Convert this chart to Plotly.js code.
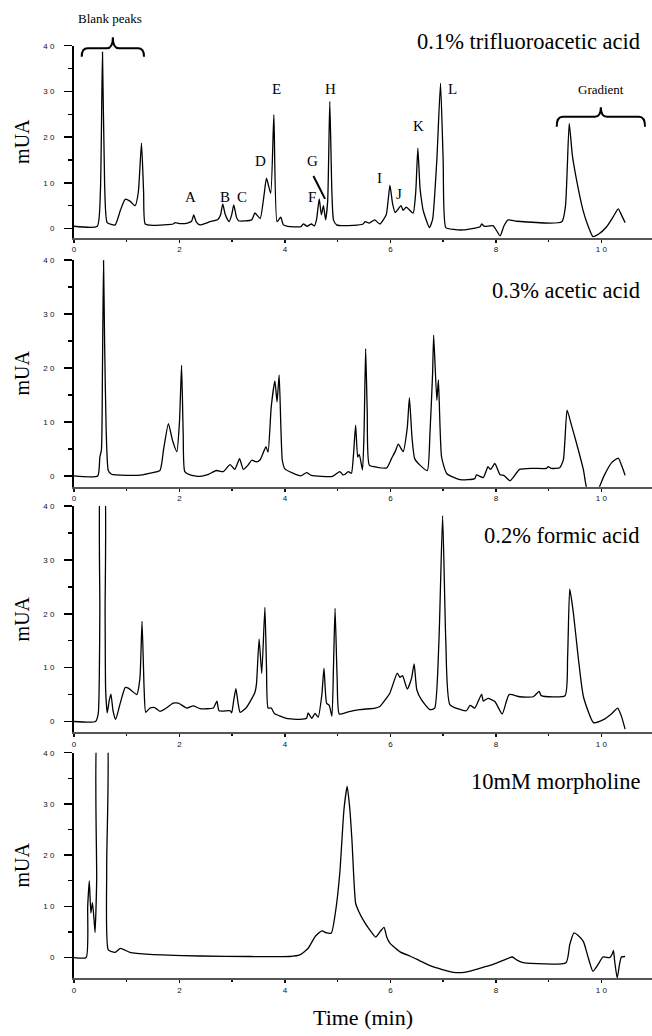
<!DOCTYPE html>
<html>
<head>
<meta charset="utf-8">
<script src="https://cdn.plot.ly/plotly-3.0.1.min.js"></script>
<style>html,body{margin:0;padding:0;background:#fff;}#chart{width:652px;height:1036px;}</style>
</head>
<body>
<div id="chart"></div>
<script>
// ---------- DATA ----------
const panelTitles = ["0.1% trifluoroacetic acid", "0.3% acetic acid", "0.2% formic acid", "10mM morpholine"];
const xTickVals = [0, 2, 4, 6, 8, 10];
const xTickText = ["0", "2", "4", "6", "8", "1 0"];
const yTickVals = [0, 10, 20, 30, 40];
const yTickText = ["0", "1 0", "2 0", "3 0", "4 0"];

const t_tfa = [0,0.44,0.50,0.54,0.58,0.63,0.78,0.88,0.97,1.06,1.16,1.22,1.28,1.32,1.35,1.5,1.7,1.88,1.92,2.0,2.15,2.23,2.27,2.32,2.39,2.58,2.73,2.78,2.82,2.87,2.94,2.99,3.03,3.08,3.12,3.37,3.43,3.53,3.60,3.65,3.73,3.79,3.85,3.92,3.97,4.05,4.30,4.35,4.42,4.50,4.56,4.60,4.65,4.69,4.73,4.77,4.81,4.85,4.89,4.92,4.98,5.30,5.48,5.52,5.60,5.70,5.80,5.92,5.99,6.04,6.09,6.20,6.24,6.30,6.43,6.48,6.52,6.56,6.58,6.62,6.74,6.80,6.88,6.95,7.00,7.05,7.20,7.38,7.70,7.73,7.78,7.95,8.08,8.15,8.23,8.40,9.25,9.32,9.39,9.45,9.53,9.65,9.75,9.84,9.95,10.10,10.22,10.32,10.38,10.45];
const v_tfa = [0.5,0.5,8,38.6,10,1.3,0.8,4.0,6.4,6.0,5.0,8,18.7,8,1.0,0.7,0.8,1.0,1.3,1.1,1.2,1.6,3.0,1.4,0.8,1.5,2.0,3,5.4,3,1.5,3,5.2,2.5,1.7,1.9,3.4,2.2,7,11.0,7.7,24.9,1.5,2.5,0.8,0.5,0.4,1.0,0.5,1.0,0.6,2,6.5,3.0,5.0,1.9,6,27.8,8,1.9,0.8,0.7,1.0,1.5,1.2,1.9,1.0,3,9.5,5.5,3.5,5.0,4.0,4.7,3.4,8,17.6,9,7.0,4,0.2,2,15,31.8,15,0.2,-0.2,-0.3,0.4,1.0,0.5,0.6,-1.6,0.5,1.9,1.6,1.5,5,23.0,16,10.6,4.1,0.5,-1.75,-1.2,0.4,2.5,4.3,3,1.3];

const t_acetic = [0,0.45,0.49,0.52,0.54,0.56,0.58,0.61,0.65,0.71,1.0,1.30,1.44,1.63,1.70,1.79,1.87,1.95,2.00,2.04,2.07,2.10,2.20,2.38,2.55,2.70,2.83,2.96,3.05,3.14,3.21,3.30,3.37,3.46,3.53,3.64,3.68,3.74,3.81,3.85,3.89,3.95,4.00,4.15,4.30,4.41,4.50,4.90,5.04,5.10,5.14,5.20,5.26,5.30,5.34,5.38,5.41,5.47,5.50,5.53,5.56,5.60,5.75,5.93,6.02,6.09,6.15,6.24,6.32,6.36,6.41,6.46,6.56,6.70,6.75,6.80,6.82,6.88,6.91,6.97,7.07,7.32,7.60,7.63,7.76,7.85,7.90,7.98,8.08,8.15,8.27,8.45,8.70,8.96,8.99,9.05,9.21,9.28,9.35,9.43,9.53,9.66,9.72,9.84,9.96,10.05,10.20,10.32,10.40,10.45];
const v_acetic = [0,0,3.5,4.8,20,39.9,25,8.5,1.0,0.3,0.1,0.2,0.5,1.0,5,9.7,6.5,4.5,10,20.5,8,0.8,0.2,-0.1,0.3,1.0,0.8,2.1,1.2,3.2,1.2,2.0,2.9,2.6,3.0,5.4,4.4,12.8,17.6,13.7,18.7,2.9,1.3,0.5,0.0,0.6,0.1,-0.1,0.8,0.2,0.3,0.8,0.5,4,9.4,3.5,4.0,1.1,8,23.6,12,2.0,1.6,1.5,3.2,4.5,5.9,4.5,9,14.5,7,3.2,2.0,1.0,8,19,26.1,14.0,17.8,3.5,0.4,-0.7,-0.5,0.2,-0.3,1.7,1.2,2.3,0.2,0.1,-0.9,1.2,1.4,1.4,1.7,1.4,1.5,3,12.2,9.5,6.0,1.1,-2.2,-4,-2.1,0,2.5,3.3,1.5,0.1];

const t_formic = [0,0.41,0.46,0.49,0.51,0.57,0.59,0.60,0.63,0.67,0.70,0.74,0.79,0.88,0.97,1.03,1.19,1.25,1.29,1.33,1.36,1.44,1.53,1.63,1.75,1.88,1.98,2.14,2.26,2.39,2.64,2.71,2.75,2.96,2.99,3.03,3.07,3.11,3.15,3.27,3.43,3.46,3.51,3.56,3.62,3.65,3.68,3.74,3.80,4.03,4.28,4.41,4.44,4.51,4.57,4.63,4.70,4.74,4.79,4.84,4.89,4.92,4.95,4.99,5.03,5.20,5.42,5.71,5.80,5.90,5.99,6.13,6.18,6.23,6.32,6.40,6.45,6.50,6.59,6.75,6.84,6.92,6.99,7.05,7.13,7.44,7.51,7.60,7.73,7.76,7.85,7.98,8.12,8.25,8.45,8.71,8.82,8.86,9.31,9.36,9.40,9.47,9.56,9.66,9.85,10.03,10.20,10.31,10.38,10.45];
const v_formic = [0,0,1.5,20,46,46,20,5.9,1.6,4,5.1,2,0.4,3.5,6.3,6.2,5.0,8,18.6,6,1.7,2.5,2.6,1.9,2.5,3.4,3.4,2.5,2.9,2.4,2.5,3.8,2.0,2.0,1.6,4,6.1,3.5,1.7,2.6,5.4,7,15.3,8.9,21.2,10,2.5,2.5,1.5,0.6,0.4,0.6,1.6,0.6,1.5,0.8,5,9.9,3.4,3.0,1.0,10,21.0,8,1.4,1.8,2.2,2.5,2.8,4.0,5.3,9.0,8.2,8.5,6.0,8,10.7,5.9,4.0,2.2,2.5,15,38.2,15,3.1,2.0,3.0,2.5,5.1,3.8,4.3,3.7,1.4,5.0,4.6,4.6,5.6,4.8,4.8,12,24.6,20.1,12,4.6,-0.2,0.3,1.5,2.5,1.0,-1.4];

const t_morph = [0,0.23,0.26,0.29,0.32,0.35,0.38,0.40,0.43,0.46,0.61,0.62,0.65,0.78,0.88,1.06,1.44,2.39,3.34,4.09,4.28,4.44,4.58,4.70,4.79,4.88,4.96,5.04,5.12,5.18,5.23,5.27,5.34,5.40,5.48,5.60,5.72,5.80,5.88,5.93,5.99,6.20,6.37,6.55,6.75,7.00,7.19,7.40,7.63,7.90,8.15,8.31,8.40,8.52,9.33,9.40,9.48,9.56,9.66,9.75,9.84,9.93,10.03,10.16,10.21,10.23,10.25,10.30,10.35,10.38,10.45];
const v_morph = [0,0,10,15.0,8.7,10.7,7.4,4.9,15,46,46,17.8,1.5,1.0,1.8,1.0,0.6,0.3,0.2,0.2,0.5,1.8,4.2,5.2,4.8,4.8,9,16.5,29,33.4,29,23,10.6,9,7.4,5.5,4.0,5.0,5.9,4,2.8,1.0,0.3,-0.6,-1.6,-2.4,-2.9,-2.9,-2.3,-1.5,-0.5,0.1,-0.5,-1.0,-1.0,2.5,4.8,4.3,3.1,0,-2.7,-1.5,0.1,0.0,0.8,1.4,-0.5,-4.0,-1.0,0.1,0.2];

const peakLetters = ["A","B","C","D","E","F","G","H","I","J","K","L"];

// ---------- LAYOUT HELPERS ----------
const W = 652, H = 1036, ML = 74, MR = 0, MT = 45, MB = 58;
const PW = W - ML - MR, PH = H - MT - MB;
const px = x => (x - ML) / PW;          // pixel -> paper x
const py = y => (H - MB - y) / PH;      // pixel -> paper y
const dom = (top, bot) => [Math.max(0, py(bot)), Math.min(1, py(top))];

const panelPix = [[45.7, 237.7], [260, 486.7], [506, 732.3], [752.7, 978.3]];
const yRanges = [[-2, 40], [-2, 40], [-2, 40], [-4, 40]];
const titleY = [41.7, 290, 535, 781.7];
const xs = [t_tfa, t_acetic, t_formic, t_morph];
const vs = [v_tfa, v_acetic, v_formic, v_morph];

const tickFont = {family: "Liberation Sans", size: 8, color: "#111"};
const serif = "Liberation Serif";

const traces = [];
const layout = {
  width: W, height: H,
  margin: {l: ML, r: MR, t: MT, b: MB, pad: 0},
  paper_bgcolor: "#fff", plot_bgcolor: "#fff",
  showlegend: false,
  font: {family: serif, color: "#000"},
  annotations: [], shapes: []
};

for (let i = 0; i < 4; i++) {
  const s = i === 0 ? "" : String(i + 1);
  traces.push({
    x: xs[i], y: vs[i], type: "scatter", mode: "lines",
    xaxis: "x" + s, yaxis: "y" + s,
    line: {color: "#000", width: 1.3, shape: "spline", smoothing: 0.5}, hoverinfo: "skip"
  });
  layout["xaxis" + s] = {
    domain: [0, 1], anchor: "y" + s, range: [0, 10.96],
    showgrid: false, zeroline: false, showline: true, linecolor: "#555", linewidth: 2,
    tickmode: "array", tickvals: xTickVals, ticktext: xTickText,
    ticks: "outside", ticklen: 3, tickwidth: 1.5, tickcolor: "#111",
    minor: {tickmode: "array", tickvals: [1, 3, 5, 7, 9], ticks: "outside", ticklen: 2, tickwidth: 1.5, tickcolor: "#111"},
    tickfont: tickFont, fixedrange: true
  };
  layout["yaxis" + s] = {
    domain: dom(panelPix[i][0], panelPix[i][1]), anchor: "x" + s, range: yRanges[i],
    showgrid: false, zeroline: false, showline: true, linecolor: "#000", linewidth: 2,
    tickmode: "array", tickvals: yTickVals, ticktext: yTickText,
    ticks: "outside", ticklen: 8, tickwidth: 1.5, tickcolor: "#000",
    minor: {tickmode: "array", tickvals: [5, 15, 25, 35], ticks: "outside", ticklen: 4, tickwidth: 1.5, tickcolor: "#000"},
    ticklabelstandoff: 8,
    tickfont: tickFont, fixedrange: true,
    title: {text: "mUA", font: {family: serif, size: 20, color: "#000"}, standoff: 8}
  };
  layout.annotations.push({
    xref: "paper", yref: "paper", x: px(642), y: py(titleY[i]),
    xanchor: "right", yanchor: "middle", showarrow: false,
    text: panelTitles[i], font: {family: serif, size: 22.5, color: "#000"}
  });
}
layout.xaxis4.title = {text: "Time (min)", font: {family: serif, size: 22, color: "#000"}, standoff: 16};

// peak letters (panel 1, data coordinates)
const letterPos = [[2.20,7.0],[2.86,7.0],[3.19,7.0],[3.54,14.8],[3.84,30.5],[4.51,7.0],[4.52,14.8],[4.87,30.5],[5.80,11.0],[6.16,7.5],[6.53,22.5],[7.18,30.5]];
peakLetters.forEach((L, k) => {
  layout.annotations.push({
    xref: "x", yref: "y", x: letterPos[k][0], y: letterPos[k][1],
    xanchor: "center", yanchor: "middle", showarrow: false,
    text: L, font: {family: serif, size: 15, color: "#000"}
  });
});
layout.shapes.push({type: "line", xref: "x", yref: "y", x0: 4.54, y0: 11.5, x1: 4.76, y1: 6.5, line: {color: "#000", width: 2}});

// text labels above braces
layout.annotations.push({xref: "paper", yref: "paper", x: px(110), y: py(18.5), xanchor: "center", yanchor: "middle",
  showarrow: false, text: "Blank peaks", font: {family: serif, size: 13, color: "#000"}});
layout.annotations.push({xref: "paper", yref: "paper", x: px(601), y: py(89), xanchor: "center", yanchor: "middle",
  showarrow: false, text: "Gradient", font: {family: serif, size: 13, color: "#000"}});

// braces (paper coordinates built from pixel layout positions)
function brace(x0, x1, yEnd, yBar, yTip) {
  const xm = (x0 + x1) / 2, r = 6;
  const P = (x, y) => px(x).toFixed(5) + "," + py(y).toFixed(5);
  return "M" + P(x0, yEnd) + " Q" + P(x0, yBar) + " " + P(x0 + r, yBar) +
         " L" + P(xm - r, yBar) + " Q" + P(xm, yBar) + " " + P(xm, yTip) +
         " Q" + P(xm, yBar) + " " + P(xm + r, yBar) +
         " L" + P(x1 - r, yBar) + " Q" + P(x1, yBar) + " " + P(x1, yEnd);
}
layout.shapes.push({type: "path", xref: "paper", yref: "paper", path: brace(81.7, 144, 56.7, 48.3, 37.3), line: {color: "#000", width: 2}});
layout.shapes.push({type: "path", xref: "paper", yref: "paper", path: brace(556.7, 645, 126.7, 116.7, 107.3), line: {color: "#000", width: 2}});

Plotly.newPlot("chart", traces, layout, {displayModeBar: false, staticPlot: true});
</script>
</body>
</html>
